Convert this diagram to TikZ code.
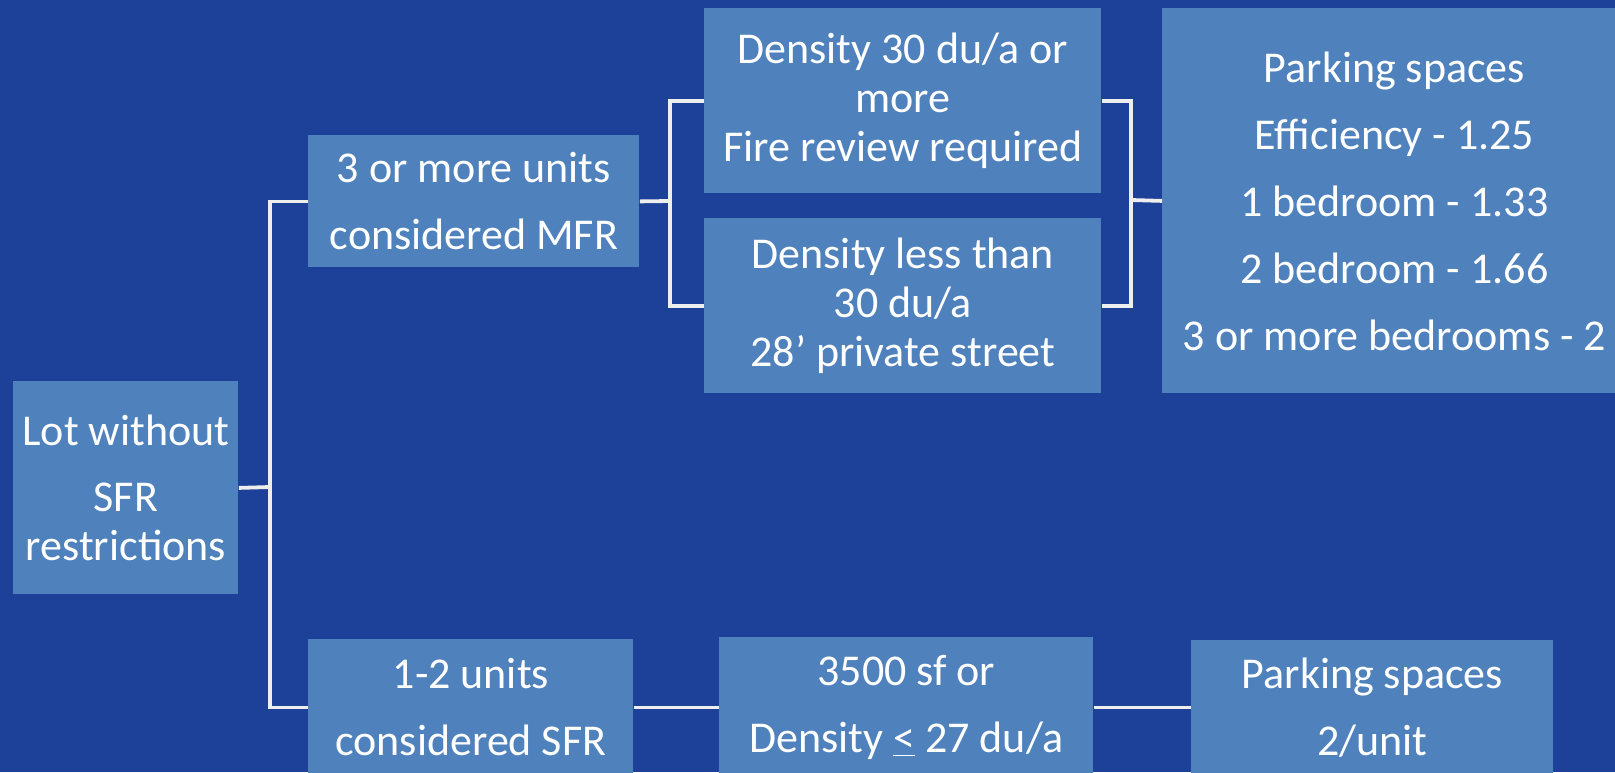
\documentclass[tikz,border=0pt]{standalone}
\usepackage{fontspec}
\setmainfont{Carlito}
\usepackage{tikz}
\usetikzlibrary{calc}
\definecolor{slideblue}{HTML}{1D4198}
\definecolor{boxblue}{HTML}{4F81BD}
\definecolor{linkgray}{HTML}{EEEEEE}

\begin{document}
\begin{tikzpicture}[x=0.5pt, y=-0.5pt,
  box/.style={fill=boxblue, text=white, align=center, anchor=north west, inner sep=0pt,
    font=\fontsize{22}{24.5}\selectfont},
  link/.style={draw=linkgray, line width=1.9pt}]
\useasboundingbox (0,0) rectangle (1615,772);
\clip (0,0) rectangle (1615,772);
\fill[slideblue] (0,0) rectangle (1615,772);

%first column
\node[box, minimum width=112.5pt, minimum height=106.5pt] (lot) at (13,381) {Lot without\\[8.5pt]SFR\\restrictions};
%the two kinds of use
\node[box, minimum width=165.5pt, minimum height=66pt] (mfr) at (308,135) {3 or more units\\[9pt]considered MFR};
\node[box, minimum width=162.5pt, minimum height=68pt] (sfr) at (308,639) {1-2 units\\[9pt]considered SFR};
%density of MFR
\node[box, minimum width=198.5pt, minimum height=92.5pt] (dhigh) at (704,8) {Density 30 du/a or\\more\\Fire review required};
\node[box, minimum width=198.5pt, minimum height=87.5pt] (dlow) at (704,218) {Density less than\\30 du/a\\28’ private street};
%lot size of SFR
\node[box, minimum width=187pt, minimum height=70pt] (lotsize) at (719,637) {3500 sf or\\[9pt]Density \underline{<} 27 du/a};
%parking
\node[box, minimum width=232pt, minimum height=192.5pt] (parkmfr) at (1162,8) {Parking spaces\\[9pt]Efficiency - 1.25\\[9pt]1 bedroom - 1.33\\[9pt]2 bedroom - 1.66\\[9pt]3 or more bedrooms - 2};
\node[box, minimum width=181pt, minimum height=67.5pt] (parksfr) at (1191,639.5) {Parking spaces\\[9pt]2/unit};

%where the lines branch
\coordinate (split) at (270,487);
\coordinate (fork) at (670,201);
\coordinate (join) at (1131,200);

%lines
\draw[link] (lot.east) -- (split);
\draw[link] (mfr.west) -| (split) |- (sfr.west);
\draw[link] (mfr.east) -- (fork);
\draw[link] (dhigh.west) -| (fork) |- (dlow.west);
\draw[link] (dhigh.east) -| (join) |- (dlow.east);
\draw[link] (join) -- (parkmfr.west);
\draw[link] (sfr.east) -- (lotsize.west);
\draw[link] (lotsize.east) -- (parksfr.west);
\end{tikzpicture}
\end{document}
